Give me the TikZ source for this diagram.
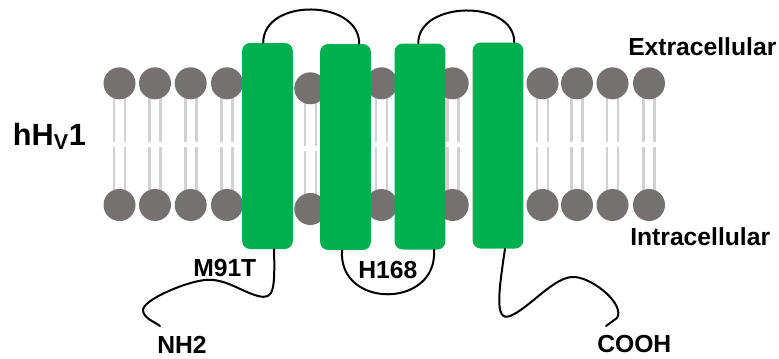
\documentclass[tikz,border=0pt]{standalone}
\usepackage{fontspec}
\setmainfont{Liberation Sans}
\definecolor{helixgreen}{RGB}{0,176,80}
\definecolor{headgray}{RGB}{118,113,113}
\definecolor{tailgray}{RGB}{210,208,208}
\tikzset{
  helix/.style={fill=helixgreen, rounded corners=6pt, minimum width=38pt, minimum height=154.5pt, inner sep=0pt},
  lipidtail/.style={draw=tailgray, line width=2.2pt},
  lipidhead/.style={fill=headgray},
  chain/.style={line width=1.5pt, line cap=round},
  lbl/.style={anchor=base west, inner sep=0pt, font=\bfseries\fontsize{18.5}{21}\selectfont}
}
\begin{document}
\begin{tikzpicture}[x=0.75pt,y=0.75pt,yscale=-1,xscale=1]
\path[use as bounding box] (0,0) rectangle (779,358);

%Lipid tails
\foreach \x in {119.5,155,190.7,227,381.5,452.7,542.5,577,612.5,649} {
  \draw[lipidtail] (\x-5.5,90) -- (\x-5.5,142) (\x+5.5,90) -- (\x+5.5,142);
  \draw[lipidtail] (\x-5.5,147) -- (\x-5.5,198) (\x+5.5,147) -- (\x+5.5,198);
}
\draw[lipidtail] (305,95) -- (305,146) (316,95) -- (316,146);
\draw[lipidtail] (305,151) -- (305,202) (316,151) -- (316,202);

%Lipid heads
\foreach \x in {119.5,155,190.7,227,381.5,452.7,542.5,577,612.5,649} {
  \fill[lipidhead] (\x,83.3) circle (16);
  \fill[lipidhead] (\x,205) circle (16);
}
\fill[lipidhead] (310.3,88.3) circle (16);
\fill[lipidhead] (310.3,209) circle (16);

%Helices
\node[helix] (h1) at (267.5,146) {};
\node[helix] (h2) at (345.5,147) {};
\node[helix] (h3) at (420,146.5) {};
\node[helix] (h4) at (498,145.5) {};

%Loops
\draw[chain] ([xshift=-3.2pt]h1.north) .. controls +(0,-45) and +(0,-45) .. ([xshift=10.3pt]h2.north);
\draw[chain] ([xshift=-1.3pt]h3.north) .. controls +(0,-43) and +(0,-43) .. ([xshift=12.2pt]h4.north);
\draw[chain] ([xshift=-2.6pt]h2.south) .. controls +(-4,59) and +(4,59) .. ([xshift=10.5pt]h3.south);

%Termini
\coordinate (nend) at (160,326);
\coordinate (cend) at (606,326);
\draw[chain] ([xshift=4.9pt]h1.south) .. controls (275,290) and (274,300) .. (258,296) .. controls (240,291) and (225,278) .. (205,280) .. controls (185,282) and (143,300) .. (143,310) .. controls (143,318) and (155,322) .. (nend);
\draw[chain] ([xshift=5.25pt]h4.south) .. controls (499,290) and (494,322) .. (510,316) .. controls (530,308) and (555,275) .. (575,277) .. controls (595,279) and (625,305) .. (617,318) -- (cend);

% Text Node
\node[lbl, font=\bfseries\fontsize{23}{26}\selectfont] (chan) at (12.7,145) {hH\textsubscript{V}1};
\node[lbl] (extra) at (628,55) {Extracellular};
\node[lbl] (intra) at (630,245) {Intracellular};
\node[lbl] (mut) at (193,276.5) {M91T};
\node[lbl] (his) at (358,278) {H168};
\node[lbl] (nterm) at (157,353) {NH2};
\node[lbl] (cterm) at (597,352) {COOH};

\end{tikzpicture}
\end{document}
